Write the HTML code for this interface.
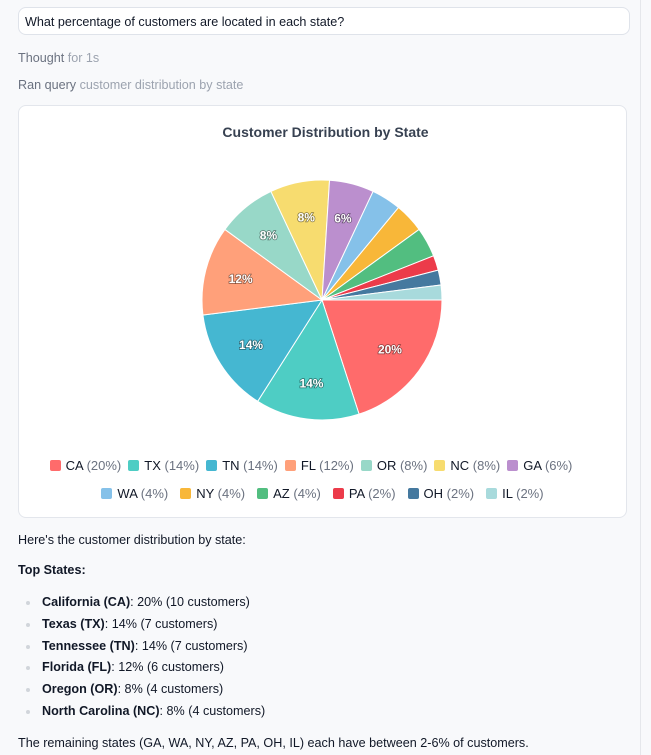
<!DOCTYPE html>
<html><head><meta charset="utf-8"><style>
body{margin:0;width:651px;height:755px;background:#f8f9fb;font-family:"Liberation Sans",Arial,sans-serif;font-size:12.6px;color:#111827;position:relative;overflow:hidden}
.ab{position:absolute;white-space:nowrap}
.input{left:18px;top:7px;width:612px;height:28px;border:1px solid #dfe3ea;border-radius:8px;background:#fff;box-sizing:border-box}
.card{left:18px;top:105px;width:609px;height:413px;border:1px solid #e3e6ec;border-radius:8px;background:#fff;box-sizing:border-box}
.g{color:#6b7280}.gl{color:#9ca3af}
.leg{font-size:13px}
.leg span.sw{display:inline-block;width:11px;height:11px;border-radius:2px;vertical-align:-1px;margin-right:5px}
.leg .it{margin-right:7px;color:#111827}
#l2 .it{margin-right:12px}
.leg .p{color:#6b7280}
.b{width:4px;height:4px;border-radius:2px;background:#d1d5db;left:26px}
</style></head><body>
<div class="ab input"></div>
<div class="ab" style="left:25px;top:15px">What percentage of customers are located in each state?</div>
<div class="ab g" style="left:18px;top:51px">Thought <span class="gl">for 1s</span></div>
<div class="ab g" style="left:18px;top:78px">Ran query <span class="gl">customer distribution by state</span></div>
<div class="ab card"></div>
<div class="ab" style="left:0;width:651px;text-align:center;top:124px;font-size:14px;font-weight:bold;color:#374151">Customer Distribution by State</div>
<svg class="ab" style="left:0;top:0" width="651" height="440" id="pie"></svg>
<div class="ab leg" style="left:-11px;width:651px;text-align:center;top:458px" id="l1"></div>
<div class="ab leg" style="left:3px;width:651px;text-align:center;top:486px" id="l2"></div>
<div class="ab" style="left:18px;top:533px">Here's the customer distribution by state:</div>
<div class="ab" style="left:18px;top:563px;font-weight:bold">Top States:</div>
<div class="ab b" style="top:601px"></div><div class="ab" style="left:42px;top:595px"><b>California (CA)</b>: 20% (10 customers)</div>
<div class="ab b" style="top:623px"></div><div class="ab" style="left:42px;top:617px"><b>Texas (TX)</b>: 14% (7 customers)</div>
<div class="ab b" style="top:645px"></div><div class="ab" style="left:42px;top:639px"><b>Tennessee (TN)</b>: 14% (7 customers)</div>
<div class="ab b" style="top:666px"></div><div class="ab" style="left:42px;top:660px"><b>Florida (FL)</b>: 12% (6 customers)</div>
<div class="ab b" style="top:688px"></div><div class="ab" style="left:42px;top:682px"><b>Oregon (OR)</b>: 8% (4 customers)</div>
<div class="ab b" style="top:710px"></div><div class="ab" style="left:42px;top:704px"><b>North Carolina (NC)</b>: 8% (4 customers)</div>
<div class="ab" style="left:18px;top:736px">The remaining states (GA, WA, NY, AZ, PA, OH, IL) each have between 2-6% of customers.</div>
<div class="ab" style="left:640px;top:0;width:1px;height:755px;background:#e5e7eb"></div>
<script>
var d=[["CA",20,"#ff6b6b"],["TX",14,"#4ecdc4"],["TN",14,"#45b7d1"],["FL",12,"#ffa07a"],["OR",8,"#98d8c8"],["NC",8,"#f7dc6f"],["GA",6,"#bb8fce"],["WA",4,"#85c1e9"],["NY",4,"#f8b739"],["AZ",4,"#52be80"],["PA",2,"#ec3b4a"],["OH",2,"#45799f"],["IL",2,"#a8dadc"]];
var cx=322,cy=300,r=120,a=0,s="";
d.forEach(function(e){var a1=a+e[1]/100*2*Math.PI;
var x0=cx+r*Math.cos(a),y0=cy+r*Math.sin(a),x1=cx+r*Math.cos(a1),y1=cy+r*Math.sin(a1);
s+='<path d="M'+cx+' '+cy+'L'+x0+' '+y0+'A'+r+' '+r+' 0 '+(a1-a>Math.PI?1:0)+' 1 '+x1+' '+y1+'Z" fill="'+e[2]+'" stroke="#fff" stroke-width="1"/>';
if(e[1]>=6){var m=(a+a1)/2;s+='<text x="'+(cx+0.7*r*Math.cos(m))+'" y="'+(cy+0.7*r*Math.sin(m)+4)+'" text-anchor="middle" font-size="12" font-weight="bold" fill="#fff" stroke="rgba(0,0,0,0.45)" stroke-width="1.5" paint-order="stroke" font-family="Liberation Sans">'+e[1]+'%</text>';}
a=a1;});
document.getElementById("pie").innerHTML=s;
function lg(arr){return arr.map(function(e){return '<span class="it"><span class="sw" style="background:'+e[2]+'"></span>'+e[0]+' <span class="p">('+e[1]+'%)</span></span>'}).join("");}
document.getElementById("l1").innerHTML=lg(d.slice(0,7));
document.getElementById("l2").innerHTML=lg(d.slice(7));
</script>
</body></html>
